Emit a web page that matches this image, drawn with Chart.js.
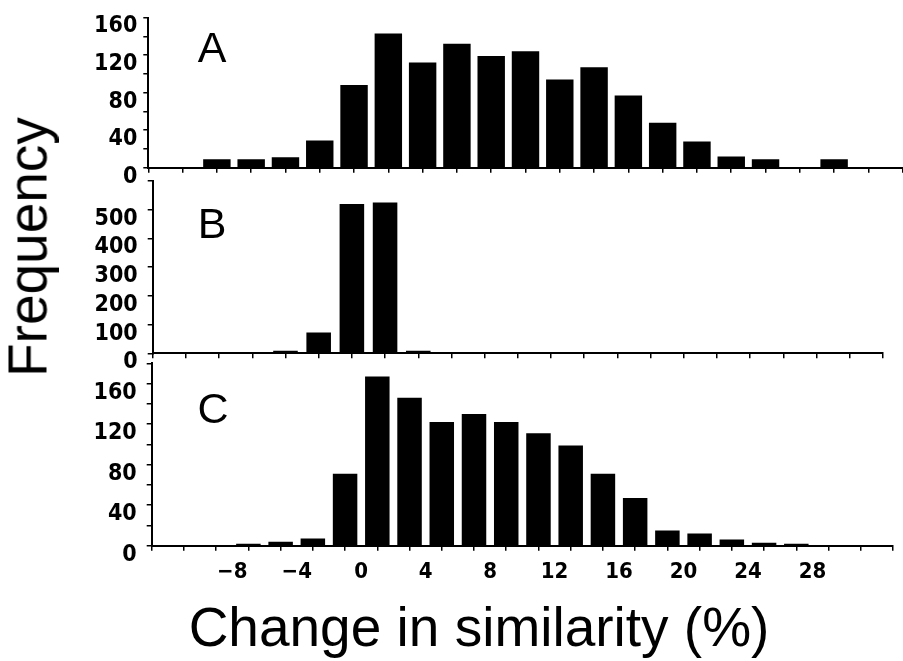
<!DOCTYPE html>
<html>
<head>
<meta charset="utf-8">
<title>Change in similarity</title>
<script src="https://cdn.jsdelivr.net/npm/chart.js@4.4.1/dist/chart.umd.min.js"></script>
<style>
  body { margin: 0; background: #fff; }
  #wrap { position: relative; width: 903px; height: 661px; overflow: hidden; }
  #wrap canvas { position: absolute; left: 0; top: 0; }
  .lbl {
    position: absolute;
    font-family: "Liberation Sans", Arial, sans-serif;
    color: #000;
    line-height: 1;
    white-space: nowrap;
    transform: translate(-50%, -50%);
  }
</style>
</head>
<body>
<div id="wrap">
  <canvas id="panelA" width="903" height="661"></canvas>
  <canvas id="panelB" width="903" height="661"></canvas>
  <canvas id="panelC" width="903" height="661"></canvas>
  <div class="lbl" style="left:212px; top:47px; font-size:43px;">A</div>
  <div class="lbl" style="left:212px; top:223px; font-size:43px;">B</div>
  <div class="lbl" style="left:213px; top:408px; font-size:43px;">C</div>
  <div class="lbl" style="left:28px; top:247px; font-size:55px; transform: translate(-50%, -50%) rotate(-90deg);">Frequency</div>
  <div class="lbl" style="left:479px; top:627px; font-size:55px;">Change in similarity (%)</div>
</div>
<script>
// bin centres (bins are 2 % wide)
const binsAB = [-11, -9, -7, -5, -3, -1, 1, 3, 5, 7, 9, 11, 13, 15, 17, 19, 21, 23, 25, 27, 29];
const binsC = [-11, -9, -7, -5, -3, -1, 1, 3, 5, 7, 9, 11, 13, 15, 17, 19, 21, 23, 25, 27, 29, 31];

const freqA = [0, 9, 9, 11, 29, 88, 143, 112, 132, 119, 124, 94, 107, 77, 48, 28, 12, 9, 0, 9, 0];
const freqB = [0, 0, 0, 9, 72, 520, 525, 9, 0, 0, 0, 0, 0, 0, 0, 0, 0, 0, 0, 0, 0];
const freqC = [0, 0, 2, 4, 7, 71, 167, 146, 122, 130, 122, 111, 99, 71, 47, 15, 12, 6, 3, 2, 0, 0];

// labelled ticks
const xLabels = [-8, -4, 0, 4, 8, 12, 16, 20, 24, 28];
const yLabelsA = [0, 40, 80, 120, 160];
const yLabelsB = [0, 100, 200, 300, 400, 500];
const yLabelsC = [0, 40, 80, 120, 160];

const W = 903, H = 661;
const numFamily = '"DejaVu Sans Condensed", "DejaVu Sans", sans-serif';

initPage();

function initPage() {
    makePanel('panelA', binsAB, freqA, {
        area: { l: 148.3, t: 12.7, r: 902.7, b: 167.7 },
        xMax: 30, yMax: 160, yStep: 20, yLabels: yLabelsA, showX: false,
        barPct: 0.8, yPad: 6
    });
    makePanel('panelB', binsAB, freqB, {
        area: { l: 152.7, t: 181, r: 883, b: 353.3 },
        xMax: 30, yMax: 600, yStep: 100, yLabels: yLabelsB, showX: false,
        barPct: 0.74, yPad: 10
    });
    makePanel('panelC', binsC, freqC, {
        area: { l: 151.7, t: 363.3, r: 893, b: 545.7 },
        xMax: 32, yMax: 180, yStep: 20, yLabels: yLabelsC, showX: true,
        barPct: 0.76, yPad: 10
    });
}

function fmtX(v) {
    return v < 0 ? '\u2212' + Math.abs(v) : String(v);
}

function makePanel(id, bins, freqs, o) {
    const ctx = document.getElementById(id);
    const a = o.area;
    new Chart(ctx, {
        type: 'bar',
        data: {
            datasets: [{
                data: bins.map((x, i) => ({ x: x, y: freqs[i] })),
                backgroundColor: '#000',
                borderWidth: 0,
                barPercentage: o.barPct,
                categoryPercentage: 1
            }]
        },
        options: {
            responsive: false,
            devicePixelRatio: 1,
            animation: false,
            layout: { padding: { left: 0, top: a.t, right: W - a.r, bottom: 0 } },
            plugins: { legend: { display: false }, tooltip: { enabled: false } },
            scales: {
                x: {
                    type: 'linear',
                    min: -12,
                    max: o.xMax,
                    afterFit: function (scale) { scale.height = H - a.b; },
                    border: { display: true, color: '#000', width: 2 },
                    grid: { display: true, drawOnChartArea: false, drawTicks: true, tickLength: 5, color: '#000', lineWidth: 1.5 },
                    ticks: {
                        stepSize: 2,
                        autoSkip: false,
                        maxRotation: 0,
                        padding: 8,
                        color: '#000',
                        font: { family: numFamily, weight: 'bold', size: 22, lineHeight: 1.2 },
                        callback: function (v) {
                            if (!o.showX) return '';
                            return xLabels.includes(v) ? fmtX(v) : '';
                        }
                    }
                },
                y: {
                    min: 0,
                    max: o.yMax,
                    afterFit: function (scale) { scale.width = a.l; },
                    border: { display: true, color: '#000', width: 2 },
                    grid: { display: true, drawOnChartArea: false, drawTicks: true, tickLength: 5, color: '#000', lineWidth: 1.5 },
                    ticks: {
                        stepSize: o.yStep,
                        autoSkip: false,
                        padding: o.yPad,
                        labelOffset: 9,
                        color: '#000',
                        font: { family: numFamily, weight: 'bold', size: 23, lineHeight: 1 },
                        callback: function (v) {
                            return o.yLabels.includes(v) ? String(v) : '';
                        }
                    }
                }
            }
        }
    });
}
</script>
</body>
</html>
